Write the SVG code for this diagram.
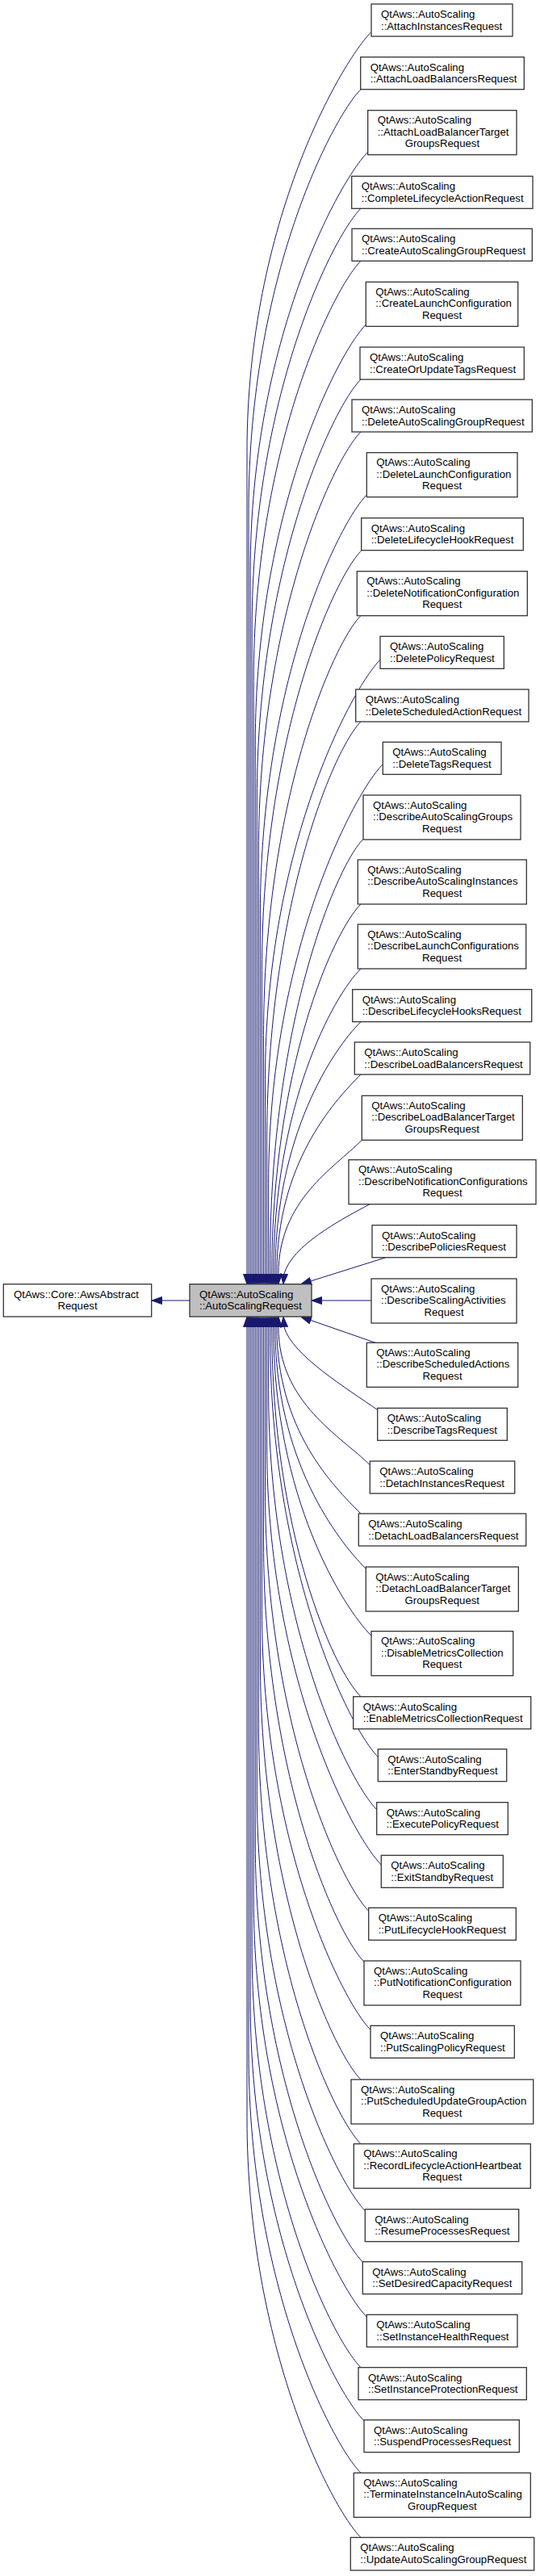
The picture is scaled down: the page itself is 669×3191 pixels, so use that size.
<svg xmlns="http://www.w3.org/2000/svg" width="669" height="3191" viewBox="0 0 669 3191">
<style>
.n rect{fill:#fff;stroke:#333;stroke-width:1.3}
#AutoScalingRequest rect{fill:#bfbfbf}
text{font-family:"Liberation Sans",Arial,Helvetica,sans-serif;font-size:13.2px;fill:#000}
.c{text-anchor:middle}
#edges path{fill:none;stroke:#191970;stroke-width:1;marker-end:url(#ah)}
</style>
<defs>
<marker id="ah" viewBox="0 0 13 10" refX="13" refY="5" markerWidth="13" markerHeight="10" orient="auto" markerUnits="userSpaceOnUse"><path d="M0.5,0.5 L13,5 L0.5,9.5 Z" fill="#191970" stroke="#191970" stroke-width="1"/></marker>
</defs>
<rect width="669" height="3191" fill="#fff"/>
<g id="edges">
<path d="M235,1611 L188,1611"/>
<path d="M460,39.5 C425,74.5 306,273.5 306,559.5 L306,1590.7"/>
<path d="M447,110.7 C412,145.7 308.05,344.7 308.05,630.7 L308.05,1590.7"/>
<path d="M455.7,188.4 C420.7,223.4 310.1,422.4 310.1,708.4 L310.1,1590.7"/>
<path d="M447,258.3 C412,293.3 312.15,492.3 312.15,778.3 L312.15,1590.7"/>
<path d="M447,323.3 C412,358.3 314.2,557.3 314.2,843.3 L314.2,1590.7"/>
<path d="M453.3,402.2 C418.3,437.2 316.25,636.2 316.25,922.2 L316.25,1590.7"/>
<path d="M447,470 C412,505 318.3,704 318.3,990 L318.3,1590.7"/>
<path d="M447,535 C412,570 320.35,769 320.35,1055 L320.35,1590.7"/>
<path d="M454.3,613.1 C419.3,648.1 322.4,847.1 322.4,1133.1 L322.4,1590.7"/>
<path d="M448,681.7 C413,716.7 324.45,915.7 324.45,1201.7 L324.45,1590.7"/>
<path d="M447,762.7 C412,797.7 326.5,996.7 326.5,1282.7 L326.5,1590.7"/>
<path d="M471,817.3 C436,852.3 328.55,1051.3 328.55,1337.3 L328.55,1590.7"/>
<path d="M447,894 C412,929 330.6,1128 330.6,1414 L330.6,1590.7"/>
<path d="M474.3,946.7 C439.3,981.7 332.65,1180.7 332.65,1466.7 L332.65,1590.7"/>
<path d="M450,1039.5 C415,1074.5 334.7,1273.5 334.7,1559.5 L334.7,1590.7"/>
<path d="M447,1120 C412,1155 336.75,1326.1 336.75,1578 L336.75,1590.7"/>
<path d="M447,1200 C412,1235 338.8,1370.1 338.8,1578 L338.8,1590.7"/>
<path d="M447,1265.7 C412,1300.7 340.85,1406.2 340.85,1578 L340.85,1590.7"/>
<path d="M447,1331 C412,1366 342.9,1442.2 342.9,1578 L342.9,1590.7"/>
<path d="M448.3,1412.3 C413.3,1447.3 344.95,1486.9 344.95,1578 L344.95,1590.7"/>
<path d="M458,1491.7 C420,1512 362,1543 352,1578 L351,1590.7"/>
<path d="M478,1557.7 L373,1590.7"/>
<path d="M460,1611 L386,1611"/>
<path d="M465,1663.3 L373,1631.3"/>
<path d="M467.7,1746.5 C430,1720 362,1679 352,1644 L351,1631.3"/>
<path d="M458.3,1814.7 C423.3,1779.7 344.95,1737.9 344.95,1644 L344.95,1631.3"/>
<path d="M447,1875 C412,1840 342.9,1771 342.9,1644 L342.9,1631.3"/>
<path d="M453.3,1943.2 C418.3,1908.2 340.85,1808.6 340.85,1644 L340.85,1631.3"/>
<path d="M460,2026.2 C425,1991.2 338.8,1854.2 338.8,1644 L338.8,1631.3"/>
<path d="M447,2101.7 C412,2066.7 336.75,1895.7 336.75,1644 L336.75,1631.3"/>
<path d="M468.3,2176.4 C433.3,2141.4 334.7,1942.4 334.7,1656.4 L334.7,1631.3"/>
<path d="M466.7,2241.6 C431.7,2206.6 332.65,2007.6 332.65,1721.6 L332.65,1631.3"/>
<path d="M472.3,2310 C437.3,2275 330.6,2076 330.6,1790 L330.6,1631.3"/>
<path d="M456.7,2367.2 C421.7,2332.2 328.55,2133.2 328.55,1847.2 L328.55,1631.3"/>
<path d="M451,2430 C416,2395 326.5,2196 326.5,1910 L326.5,1631.3"/>
<path d="M459,2514.3 C424,2479.3 324.45,2280.3 324.45,1994.3 L324.45,1631.3"/>
<path d="M447,2576 C412,2541 322.4,2342 322.4,2056 L322.4,1631.3"/>
<path d="M447,2655.7 C412,2620.7 320.35,2421.7 320.35,2135.7 L320.35,1631.3"/>
<path d="M452.3,2738.4 C417.3,2703.4 318.3,2504.4 318.3,2218.4 L318.3,1631.3"/>
<path d="M449.3,2801.9 C414.3,2766.9 316.25,2567.9 316.25,2281.9 L316.25,1631.3"/>
<path d="M454.3,2870 C419.3,2835 314.2,2636 314.2,2350 L314.2,1631.3"/>
<path d="M447,2932.7 C412,2897.7 312.15,2698.7 312.15,2412.7 L312.15,1631.3"/>
<path d="M451,2998.7 C416,2963.7 310.1,2764.7 310.1,2478.7 L310.1,1631.3"/>
<path d="M447,3063.3 C412,3028.3 308.05,2829.3 308.05,2543.3 L308.05,1631.3"/>
<path d="M447,3143.3 C412,3108.3 306,2909.3 306,2623.3 L306,1631.3"/>
</g>
<g id="AwsAbstractRequest" class="n" transform="translate(4.3,1590.7)"><rect width="183.4" height="40.3"/><text x="12.8" y="17.2">QtAws::Core::AwsAbstract</text><text class="c" x="91.7" y="31.8">Request</text></g>
<g id="AutoScalingRequest" class="n" transform="translate(235,1590.7)"><rect width="151" height="40.3"/><text x="12" y="17.2">QtAws::AutoScaling</text><text x="12" y="31.8">::AutoScalingRequest</text></g>
<g id="AttachInstancesRequest" class="n" transform="translate(460,5)"><rect width="175" height="40"/><text x="12" y="17.2">QtAws::AutoScaling</text><text x="12" y="31.8">::AttachInstancesRequest</text></g>
<g id="AttachLoadBalancersRequest" class="n" transform="translate(446.7,70.7)"><rect width="202.6" height="40"/><text x="12" y="17.2">QtAws::AutoScaling</text><text x="12" y="31.8">::AttachLoadBalancersRequest</text></g>
<g id="AttachLoadBalancerTargetGroupsRequest" class="n" transform="translate(455.7,136.7)"><rect width="184.3" height="55"/><text x="12" y="16.6">QtAws::AutoScaling</text><text x="12" y="31.2">::AttachLoadBalancerTarget</text><text class="c" x="92.2" y="45.8">GroupsRequest</text></g>
<g id="CompleteLifecycleActionRequest" class="n" transform="translate(435.7,218.3)"><rect width="224.3" height="40"/><text x="12" y="17.2">QtAws::AutoScaling</text><text x="12" y="31.8">::CompleteLifecycleActionRequest</text></g>
<g id="CreateAutoScalingGroupRequest" class="n" transform="translate(436,283.3)"><rect width="223.3" height="40"/><text x="12" y="17.2">QtAws::AutoScaling</text><text x="12" y="31.8">::CreateAutoScalingGroupRequest</text></g>
<g id="CreateLaunchConfigurationRequest" class="n" transform="translate(453.3,349.3)"><rect width="188.4" height="55"/><text x="12" y="16.6">QtAws::AutoScaling</text><text x="12" y="31.2">::CreateLaunchConfiguration</text><text class="c" x="94.2" y="45.8">Request</text></g>
<g id="CreateOrUpdateTagsRequest" class="n" transform="translate(446,430)"><rect width="203.3" height="40"/><text x="12" y="17.2">QtAws::AutoScaling</text><text x="12" y="31.8">::CreateOrUpdateTagsRequest</text></g>
<g id="DeleteAutoScalingGroupRequest" class="n" transform="translate(436,495)"><rect width="223.3" height="40"/><text x="12" y="17.2">QtAws::AutoScaling</text><text x="12" y="31.8">::DeleteAutoScalingGroupRequest</text></g>
<g id="DeleteLaunchConfigurationRequest" class="n" transform="translate(454.3,560.7)"><rect width="186.7" height="55"/><text x="12" y="16.6">QtAws::AutoScaling</text><text x="12" y="31.2">::DeleteLaunchConfiguration</text><text class="c" x="93.3" y="45.8">Request</text></g>
<g id="DeleteLifecycleHookRequest" class="n" transform="translate(447.7,641.7)"><rect width="200.6" height="40"/><text x="12" y="17.2">QtAws::AutoScaling</text><text x="12" y="31.8">::DeleteLifecycleHookRequest</text></g>
<g id="DeleteNotificationConfigurationRequest" class="n" transform="translate(442.3,707.7)"><rect width="211" height="55"/><text x="12" y="16.6">QtAws::AutoScaling</text><text x="12" y="31.2">::DeleteNotificationConfiguration</text><text class="c" x="105.5" y="45.8">Request</text></g>
<g id="DeletePolicyRequest" class="n" transform="translate(471,788.3)"><rect width="153.3" height="40"/><text x="12" y="17.2">QtAws::AutoScaling</text><text x="12" y="31.8">::DeletePolicyRequest</text></g>
<g id="DeleteScheduledActionRequest" class="n" transform="translate(440.7,854)"><rect width="214.3" height="40"/><text x="12" y="17.2">QtAws::AutoScaling</text><text x="12" y="31.8">::DeleteScheduledActionRequest</text></g>
<g id="DeleteTagsRequest" class="n" transform="translate(474.3,919.3)"><rect width="146.7" height="40"/><text x="12" y="17.2">QtAws::AutoScaling</text><text x="12" y="31.8">::DeleteTagsRequest</text></g>
<g id="DescribeAutoScalingGroupsRequest" class="n" transform="translate(450,985)"><rect width="195" height="55"/><text x="12" y="16.6">QtAws::AutoScaling</text><text x="12" y="31.2">::DescribeAutoScalingGroups</text><text class="c" x="97.5" y="45.8">Request</text></g>
<g id="DescribeAutoScalingInstancesRequest" class="n" transform="translate(443.3,1065)"><rect width="209" height="55"/><text x="12" y="16.6">QtAws::AutoScaling</text><text x="12" y="31.2">::DescribeAutoScalingInstances</text><text class="c" x="104.5" y="45.8">Request</text></g>
<g id="DescribeLaunchConfigurationsRequest" class="n" transform="translate(443.3,1145)"><rect width="208.4" height="55"/><text x="12" y="16.6">QtAws::AutoScaling</text><text x="12" y="31.2">::DescribeLaunchConfigurations</text><text class="c" x="104.2" y="45.8">Request</text></g>
<g id="DescribeLifecycleHooksRequest" class="n" transform="translate(436.7,1225.7)"><rect width="222" height="40"/><text x="12" y="17.2">QtAws::AutoScaling</text><text x="12" y="31.8">::DescribeLifecycleHooksRequest</text></g>
<g id="DescribeLoadBalancersRequest" class="n" transform="translate(439.3,1291)"><rect width="217.4" height="40"/><text x="12" y="17.2">QtAws::AutoScaling</text><text x="12" y="31.8">::DescribeLoadBalancersRequest</text></g>
<g id="DescribeLoadBalancerTargetGroupsRequest" class="n" transform="translate(448.3,1357.3)"><rect width="199" height="55"/><text x="12" y="16.6">QtAws::AutoScaling</text><text x="12" y="31.2">::DescribeLoadBalancerTarget</text><text class="c" x="99.5" y="45.8">GroupsRequest</text></g>
<g id="DescribeNotificationConfigurationsRequest" class="n" transform="translate(432,1436.7)"><rect width="232" height="55"/><text x="12" y="16.6">QtAws::AutoScaling</text><text x="12" y="31.2">::DescribeNotificationConfigurations</text><text class="c" x="116" y="45.8">Request</text></g>
<g id="DescribePoliciesRequest" class="n" transform="translate(461,1517.7)"><rect width="179" height="40"/><text x="12" y="17.2">QtAws::AutoScaling</text><text x="12" y="31.8">::DescribePoliciesRequest</text></g>
<g id="DescribeScalingActivitiesRequest" class="n" transform="translate(460,1584)"><rect width="180" height="55"/><text x="12" y="16.6">QtAws::AutoScaling</text><text x="12" y="31.2">::DescribeScalingActivities</text><text class="c" x="90" y="45.8">Request</text></g>
<g id="DescribeScheduledActionsRequest" class="n" transform="translate(454.3,1663.3)"><rect width="187.4" height="55"/><text x="12" y="16.6">QtAws::AutoScaling</text><text x="12" y="31.2">::DescribeScheduledActions</text><text class="c" x="93.7" y="45.8">Request</text></g>
<g id="DescribeTagsRequest" class="n" transform="translate(467.7,1744.3)"><rect width="160.6" height="40"/><text x="12" y="17.2">QtAws::AutoScaling</text><text x="12" y="31.8">::DescribeTagsRequest</text></g>
<g id="DetachInstancesRequest" class="n" transform="translate(458.3,1810)"><rect width="179.4" height="40"/><text x="12" y="17.2">QtAws::AutoScaling</text><text x="12" y="31.8">::DetachInstancesRequest</text></g>
<g id="DetachLoadBalancersRequest" class="n" transform="translate(444.3,1875)"><rect width="207.4" height="40"/><text x="12" y="17.2">QtAws::AutoScaling</text><text x="12" y="31.8">::DetachLoadBalancersRequest</text></g>
<g id="DetachLoadBalancerTargetGroupsRequest" class="n" transform="translate(453.3,1941)"><rect width="189" height="55"/><text x="12" y="16.6">QtAws::AutoScaling</text><text x="12" y="31.2">::DetachLoadBalancerTarget</text><text class="c" x="94.5" y="45.8">GroupsRequest</text></g>
<g id="DisableMetricsCollectionRequest" class="n" transform="translate(460,2020.7)"><rect width="175.7" height="55"/><text x="12" y="16.6">QtAws::AutoScaling</text><text x="12" y="31.2">::DisableMetricsCollection</text><text class="c" x="87.8" y="45.8">Request</text></g>
<g id="EnableMetricsCollectionRequest" class="n" transform="translate(437.7,2101.7)"><rect width="220" height="40"/><text x="12" y="17.2">QtAws::AutoScaling</text><text x="12" y="31.8">::EnableMetricsCollectionRequest</text></g>
<g id="EnterStandbyRequest" class="n" transform="translate(468.3,2166.7)"><rect width="159.4" height="40"/><text x="12" y="17.2">QtAws::AutoScaling</text><text x="12" y="31.8">::EnterStandbyRequest</text></g>
<g id="ExecutePolicyRequest" class="n" transform="translate(466.7,2232.7)"><rect width="162.6" height="40"/><text x="12" y="17.2">QtAws::AutoScaling</text><text x="12" y="31.8">::ExecutePolicyRequest</text></g>
<g id="ExitStandbyRequest" class="n" transform="translate(472.3,2298.3)"><rect width="151" height="40"/><text x="12" y="17.2">QtAws::AutoScaling</text><text x="12" y="31.8">::ExitStandbyRequest</text></g>
<g id="PutLifecycleHookRequest" class="n" transform="translate(456.7,2363.3)"><rect width="182.6" height="40"/><text x="12" y="17.2">QtAws::AutoScaling</text><text x="12" y="31.8">::PutLifecycleHookRequest</text></g>
<g id="PutNotificationConfigurationRequest" class="n" transform="translate(451,2429)"><rect width="194" height="55"/><text x="12" y="16.6">QtAws::AutoScaling</text><text x="12" y="31.2">::PutNotificationConfiguration</text><text class="c" x="97" y="45.8">Request</text></g>
<g id="PutScalingPolicyRequest" class="n" transform="translate(459,2509.3)"><rect width="178.3" height="40"/><text x="12" y="17.2">QtAws::AutoScaling</text><text x="12" y="31.8">::PutScalingPolicyRequest</text></g>
<g id="PutScheduledUpdateGroupActionRequest" class="n" transform="translate(435,2576)"><rect width="225.7" height="55"/><text x="12" y="16.6">QtAws::AutoScaling</text><text x="12" y="31.2">::PutScheduledUpdateGroupAction</text><text class="c" x="112.8" y="45.8">Request</text></g>
<g id="RecordLifecycleActionHeartbeatRequest" class="n" transform="translate(438.3,2655.7)"><rect width="219" height="55"/><text x="12" y="16.6">QtAws::AutoScaling</text><text x="12" y="31.2">::RecordLifecycleActionHeartbeat</text><text class="c" x="109.5" y="45.8">Request</text></g>
<g id="ResumeProcessesRequest" class="n" transform="translate(452.3,2736.7)"><rect width="190.4" height="40"/><text x="12" y="17.2">QtAws::AutoScaling</text><text x="12" y="31.8">::ResumeProcessesRequest</text></g>
<g id="SetDesiredCapacityRequest" class="n" transform="translate(449.3,2801.7)"><rect width="197.4" height="40"/><text x="12" y="17.2">QtAws::AutoScaling</text><text x="12" y="31.8">::SetDesiredCapacityRequest</text></g>
<g id="SetInstanceHealthRequest" class="n" transform="translate(454.3,2867.3)"><rect width="186.7" height="40"/><text x="12" y="17.2">QtAws::AutoScaling</text><text x="12" y="31.8">::SetInstanceHealthRequest</text></g>
<g id="SetInstanceProtectionRequest" class="n" transform="translate(444,2932.7)"><rect width="208.3" height="40"/><text x="12" y="17.2">QtAws::AutoScaling</text><text x="12" y="31.8">::SetInstanceProtectionRequest</text></g>
<g id="SuspendProcessesRequest" class="n" transform="translate(451,2997.7)"><rect width="192.3" height="40"/><text x="12" y="17.2">QtAws::AutoScaling</text><text x="12" y="31.8">::SuspendProcessesRequest</text></g>
<g id="TerminateInstanceInAutoScalingGroupRequest" class="n" transform="translate(438.3,3063.3)"><rect width="219" height="55"/><text x="12" y="16.6">QtAws::AutoScaling</text><text x="12" y="31.2">::TerminateInstanceInAutoScaling</text><text class="c" x="109.5" y="45.8">GroupRequest</text></g>
<g id="UpdateAutoScalingGroupRequest" class="n" transform="translate(434.3,3143.3)"><rect width="227.4" height="40.7"/><text x="12" y="17.2">QtAws::AutoScaling</text><text x="12" y="31.8">::UpdateAutoScalingGroupRequest</text></g>
</svg>
